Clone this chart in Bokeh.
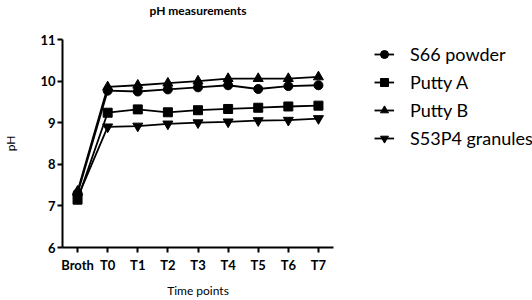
from bokeh.plotting import figure
from bokeh.models import Legend, LegendItem, FactorRange, Range1d, FixedTicker, Label
from bokeh.embed import file_html
from bokeh.resources import INLINE

time_points = ["Broth", "T0", "T1", "T2", "T3", "T4", "T5", "T6", "T7"]
s66_powder = [7.30, 9.77, 9.75, 9.80, 9.85, 9.90, 9.81, 9.88, 9.90]
putty_a = [7.15, 9.24, 9.32, 9.25, 9.30, 9.33, 9.36, 9.39, 9.41]
putty_b = [7.35, 9.86, 9.90, 9.95, 10.00, 10.06, 10.06, 10.06, 10.10]
s53p4_granules = [7.20, 8.90, 8.92, 8.97, 9.00, 9.02, 9.05, 9.06, 9.10]
series_names = ["S66 powder", "Putty A", "Putty B", "S53P4 granules"]
y_ticks = [6, 7, 8, 9, 10, 11]

FONT = "Lato"

p = figure(frame_width=271, frame_height=208, x_range=FactorRange(*time_points),
           y_range=Range1d(6, 11), output_backend="svg", toolbar_location=None,
           min_border_left=58, min_border_right=203, min_border_top=39,
           min_border_bottom=53)
p.outline_line_color = None
p.grid.visible = False
p.background_fill_color = "white"
p.border_fill_color = "white"

for ax in (p.xaxis[0], p.yaxis[0]):
    ax.axis_line_width = 2
    ax.major_tick_line_width = 2
    ax.major_tick_out = 5
    ax.major_tick_in = 0
    ax.minor_tick_out = 0
    ax.minor_tick_in = 0
    ax.major_label_text_font = FONT
    ax.major_label_text_font_style = "bold"
    ax.major_label_text_font_size = "13px"
    ax.major_label_text_color = "black"
    ax.axis_label_text_font = FONT
    ax.axis_label_text_font_style = "normal"
    ax.axis_label_text_font_size = "12px"
    ax.axis_label_text_color = "black"
    ax.axis_line_color = "black"
    ax.major_tick_line_color = "black"

p.yaxis.ticker = FixedTicker(ticks=y_ticks)
p.yaxis.major_label_standoff = 2
p.yaxis.axis_label = "pH"
p.yaxis.axis_label_standoff = 19
p.xaxis.major_label_standoff = 4
p.xaxis.axis_label = "Time points"
p.xaxis.axis_label_standoff = 7

series = [s66_powder, putty_a, putty_b, s53p4_granules]
markers = ["circle", "square", "triangle", "inverted_triangle"]
sizes = [9, 9, 10, 10]
items = []
for name, vals, mk, sz in zip(series_names, series, markers, sizes):
    ln = p.line(time_points, vals, line_color="black", line_width=1.8)
    sc = p.scatter(time_points, vals, marker=mk, size=sz, fill_color="black",
                   line_color="black")
    items.append(LegendItem(label=name, renderers=[ln, sc]))

legend = Legend(items=items, location=(41, 98.5), orientation="vertical",
                glyph_width=20, glyph_height=20, label_height=20,
                label_standoff=16, spacing=6, padding=0, margin=0,
                label_text_font=FONT, label_text_font_size="18px",
                label_text_color="black", border_line_color=None,
                background_fill_alpha=0)
p.add_layout(legend, "right")

title = Label(x=135.5, y=29, x_units="screen", y_units="screen",
              text="pH measurements", text_font=FONT, text_font_style="bold",
              text_font_size="12px", text_align="center", text_baseline="middle",
              text_color="black")
p.add_layout(title, "above")

open("out.html", "w").write(file_html(p, INLINE))
